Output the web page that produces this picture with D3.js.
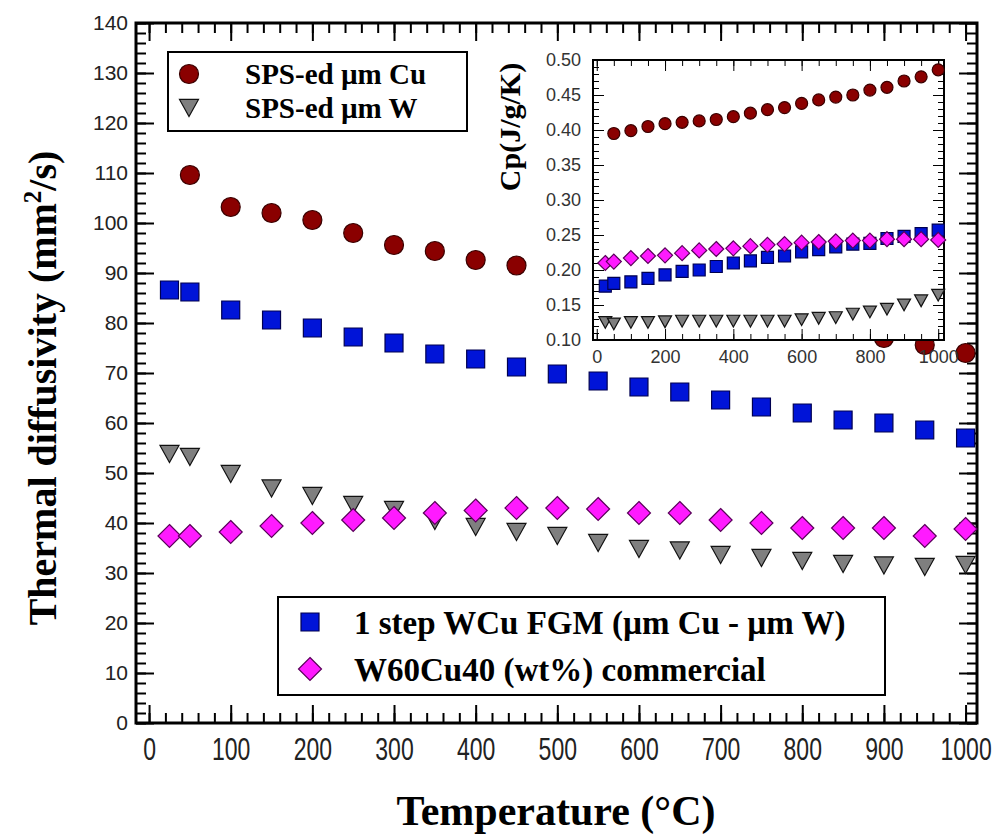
<!DOCTYPE html>
<html>
<head>
<meta charset="utf-8">
<script src="https://cdn.jsdelivr.net/npm/d3@7"></script>
<style>
  body { margin: 0; background: #fff; }
  svg { display: block; }
</style>
</head>
<body>
<div id="chart"></div>
<script>
// temperatures (°C)
const temps = [25, 50, 100, 150, 200, 250, 300, 350, 400, 450, 500, 550, 600, 650, 700, 750, 800, 850, 900, 950, 1000];
const cuTemps = [50, 100, 150, 200, 250, 300, 350, 400, 450, 500, 550, 600, 650, 700, 750, 800, 850, 900, 950, 1000];

// thermal diffusivity (mm2/s)
const cuDiff   = [109.6, 103.2, 102, 100.6, 98, 95.6, 94.4, 92.6, 91.5, 90.8, 89.5, 88, 86.5, 85, 83.5, 82, 80.5, 77, 75.6, 74];
const wDiff    = [53.8, 53.2, 49.8, 46.9, 45.4, 43.6, 42.6, 40.4, 39.2, 38.2, 37.4, 36, 34.8, 34.5, 33.6, 33, 32.4, 31.8, 31.5, 31.2, 31.6];
const fgmDiff  = [86.6, 86.2, 82.6, 80.6, 79, 77.2, 76, 73.8, 72.8, 71.2, 69.8, 68.4, 67.2, 66.2, 64.6, 63.2, 62, 60.6, 60, 58.6, 57];
const commDiff = [37.4, 37.4, 38.2, 39.4, 40, 40.6, 41, 42, 42.5, 43, 43, 42.8, 42, 42, 40.6, 40, 39, 39, 39, 37.4, 38.8];

// specific heat (J/g/K), inset
const cuCp   = [0.395, 0.399, 0.405, 0.409, 0.411, 0.413, 0.415, 0.419, 0.424, 0.429, 0.432, 0.438, 0.443, 0.447, 0.450, 0.457, 0.461, 0.470, 0.476, 0.486];
const wCp    = [0.125, 0.123, 0.125, 0.125, 0.126, 0.127, 0.127, 0.127, 0.127, 0.127, 0.127, 0.127, 0.129, 0.131, 0.132, 0.137, 0.140, 0.144, 0.150, 0.156, 0.164];
const fgmCp  = [0.177, 0.181, 0.183, 0.188, 0.193, 0.198, 0.200, 0.205, 0.210, 0.213, 0.218, 0.220, 0.226, 0.229, 0.233, 0.237, 0.238, 0.245, 0.248, 0.252, 0.257];
const commCp = [0.210, 0.212, 0.217, 0.220, 0.221, 0.224, 0.228, 0.230, 0.231, 0.234, 0.236, 0.237, 0.239, 0.240, 0.241, 0.242, 0.242, 0.244, 0.244, 0.244, 0.243];

const xTicks = [0, 100, 200, 300, 400, 500, 600, 700, 800, 900, 1000];
const yTicks = [0, 10, 20, 30, 40, 50, 60, 70, 80, 90, 100, 110, 120, 130, 140];
const insetXTicks = [0, 200, 400, 600, 800, 1000];
const insetYTicks = [0.10, 0.15, 0.20, 0.25, 0.30, 0.35, 0.40, 0.45, 0.50];

const legendTop = ["SPS-ed \u00b5m Cu", "SPS-ed \u00b5m W"];
const legendBottom = ["1 step WCu FGM (\u00b5m Cu - \u00b5m W)", "W60Cu40 (wt%) commercial"];

const width = 1000, height = 834;
const serif = "'Liberation Serif', 'Times New Roman', serif";
const sans = "'Liberation Sans', Arial, sans-serif";

const svg = d3.select('#chart').append('svg')
    .attr('width', width)
    .attr('height', height);

// main plot frame
const plot = { left: 136, right: 977, top: 23, bottom: 723 };
const x = d3.scaleLinear().domain([-16, 1014]).range([plot.left, plot.right]);
const y = d3.scaleLinear().domain([0, 140]).range([plot.bottom, plot.top]);

// marker shapes
const markers = {
    circle:   (s) => d3.symbol(d3.symbolCircle, Math.PI * s * s / 4)(),
    square:   (s) => d3.symbol(d3.symbolSquare, s * s)(),
    diamond:  (s) => `M0,${-s / 2}L${s / 2},0L0,${s / 2}L${-s / 2},0Z`,
    triangle: (s) => `M${-s / 2},${-s * 0.45}L${s / 2},${-s * 0.45}L0,${s * 0.45}Z`
};
const styles = {
    cu:   { shape: 'circle',   fill: '#8a0000', stroke: '#3a0000' },
    w:    { shape: 'triangle', fill: '#7f7f7f', stroke: '#111' },
    fgm:  { shape: 'square',   fill: '#0014d8', stroke: '#000050' },
    comm: { shape: 'diamond',  fill: '#ff1aff', stroke: '#5a005a' }
};
const mainSize = { circle: 19, triangle: 19, square: 18, diamond: 23 };
const insetSize = { circle: 12, triangle: 13, square: 12, diamond: 15 };

function drawSeries(g, xs, ys, tArr, vArr, key, sizes) {
    const st = styles[key];
    g.append('g').selectAll('path')
        .data(tArr.map((t, i) => [t, vArr[i]]))
        .join('path')
        .attr('transform', d => `translate(${xs(d[0])},${ys(d[1])})`)
        .attr('d', markers[st.shape](sizes[st.shape]))
        .attr('fill', st.fill)
        .attr('stroke', st.stroke)
        .attr('stroke-width', 1.2);
}

// ticks, all pointing inside
function ticks(g, axisFn, scale, values, size, labels, pad) {
    const a = axisFn(scale).tickValues(values).tickSize(-size).tickPadding(pad || 3);
    a.tickFormat(labels ? d3.format('d') : '');
    const sel = g.append('g').call(a);
    sel.select('.domain').remove();
    return sel;
}

const main = svg.append('g');

// minor / major ticks on 4 sides
const xMinor = d3.range(0, 1001, 20), yMinor = d3.range(0, 141, 2);
ticks(main.append('g').attr('transform', `translate(0,${plot.bottom})`), d3.axisBottom, x, xMinor, 10, false)
    .selectAll('line').attr('stroke-width', 2);
const xLab = ticks(main.append('g').attr('transform', `translate(0,${plot.bottom})`), d3.axisBottom, x, xTicks, 18, true, 14);
xLab.selectAll('line').attr('stroke-width', 2);
xLab.selectAll('text')
    .attr('font-family', sans).attr('font-size', 32).attr('fill', '#222')
    .attr('transform', 'scale(0.72,1)');

ticks(main.append('g').attr('transform', `translate(0,${plot.top})`), d3.axisTop, x, xMinor, 10, false)
    .selectAll('line').attr('stroke-width', 2);
ticks(main.append('g').attr('transform', `translate(0,${plot.top})`), d3.axisTop, x, xTicks, 18, false)
    .selectAll('line').attr('stroke-width', 2);

ticks(main.append('g').attr('transform', `translate(${plot.left},0)`), d3.axisLeft, y, yMinor, 10, false)
    .selectAll('line').attr('stroke-width', 2);
const yLab = ticks(main.append('g').attr('transform', `translate(${plot.left},0)`), d3.axisLeft, y, yTicks, 18, true, 8);
yLab.selectAll('line').attr('stroke-width', 2);
yLab.selectAll('text')
    .attr('font-family', sans).attr('font-size', 21).attr('fill', '#222');

ticks(main.append('g').attr('transform', `translate(${plot.right},0)`), d3.axisRight, y, yMinor, 10, false)
    .selectAll('line').attr('stroke-width', 2);
ticks(main.append('g').attr('transform', `translate(${plot.right},0)`), d3.axisRight, y, yTicks, 18, false)
    .selectAll('line').attr('stroke-width', 2);

main.append('rect')
    .attr('x', plot.left).attr('y', plot.top)
    .attr('width', plot.right - plot.left).attr('height', plot.bottom - plot.top)
    .attr('fill', 'none').attr('stroke', '#000').attr('stroke-width', 3);

// main series
const dots = main.append('g');
drawSeries(dots, x, y, cuTemps, cuDiff, 'cu', mainSize);
drawSeries(dots, x, y, temps, fgmDiff, 'fgm', mainSize);
drawSeries(dots, x, y, temps, wDiff, 'w', mainSize);
drawSeries(dots, x, y, temps, commDiff, 'comm', mainSize);

// axis titles
svg.append('text')
    .attr('transform', 'translate(556,825)')
    .attr('text-anchor', 'middle')
    .attr('font-family', serif).attr('font-weight', 'bold').attr('font-size', 42)
    .text('Temperature (\u00b0C)');

const yTitle = svg.append('text')
    .attr('transform', 'translate(56,388) rotate(-90)')
    .attr('text-anchor', 'middle')
    .attr('font-family', serif).attr('font-weight', 'bold').attr('font-size', 40);
yTitle.append('tspan').text('Thermal diffusivity (mm');
yTitle.append('tspan').attr('dy', -15).attr('font-size', 25).text('2');
yTitle.append('tspan').attr('dy', 15).text('/s)');

// legends
function legend(x0, y0, w, h, rows, keys, markX, textX, rowY, fontSize) {
    const g = svg.append('g');
    g.append('rect').attr('x', x0).attr('y', y0).attr('width', w).attr('height', h)
        .attr('fill', '#fff').attr('stroke', '#000').attr('stroke-width', 2);
    rows.forEach((label, i) => {
        const st = styles[keys[i]];
        g.append('path')
            .attr('transform', `translate(${markX},${rowY[i]})`)
            .attr('d', markers[st.shape](mainSize[st.shape]))
            .attr('fill', st.fill).attr('stroke', st.stroke).attr('stroke-width', 1.2);
        g.append('text')
            .attr('x', textX).attr('y', rowY[i])
            .attr('dy', '0.35em')
            .attr('font-family', serif).attr('font-weight', 'bold').attr('font-size', fontSize)
            .text(label);
    });
}
legend(168, 52, 299, 79, legendTop, ['cu', 'w'], 189, 245, [74, 108], 29);
legend(278, 597, 607, 98, legendBottom, ['fgm', 'comm'], 310, 354, [622, 669], 33);

// inset
const inset = { left: 593, right: 944, top: 60, bottom: 340 };
const xi = d3.scaleLinear().domain([-11, 1017]).range([inset.left, inset.right]);
const yi = d3.scaleLinear().domain([0.10, 0.50]).range([inset.bottom, inset.top]);

const ins = svg.append('g');
ins.append('rect')
    .attr('x', 535).attr('y', 50).attr('width', inset.right - 535).attr('height', inset.bottom - 50)
    .attr('fill', '#fff');

const xiMinor = d3.range(0, 1001, 50), yiMinor = d3.range(10, 51, 1).map(d => d / 100);
ticks(ins.append('g').attr('transform', `translate(0,${inset.bottom})`), d3.axisBottom, xi, xiMinor, 6, false);
const xiLab = ticks(ins.append('g').attr('transform', `translate(0,${inset.bottom})`), d3.axisBottom, xi, insetXTicks, 11, true, 10);
xiLab.selectAll('text').attr('font-family', sans).attr('font-size', 18).attr('fill', '#333');
ticks(ins.append('g').attr('transform', `translate(0,${inset.top})`), d3.axisTop, xi, xiMinor, 6, false);
ticks(ins.append('g').attr('transform', `translate(0,${inset.top})`), d3.axisTop, xi, insetXTicks, 11, false);
ticks(ins.append('g').attr('transform', `translate(${inset.left},0)`), d3.axisLeft, yi, yiMinor, 6, false);
const yiLab = ticks(ins.append('g').attr('transform', `translate(${inset.left},0)`), d3.axisLeft, yi, insetYTicks, 11, true, 12);
yiLab.selectAll('text').attr('font-family', sans).attr('font-size', 18).attr('fill', '#333')
    .text(d => d3.format('.2f')(d));
ticks(ins.append('g').attr('transform', `translate(${inset.right},0)`), d3.axisRight, yi, yiMinor, 6, false);
ticks(ins.append('g').attr('transform', `translate(${inset.right},0)`), d3.axisRight, yi, insetYTicks, 11, false);

ins.append('rect')
    .attr('x', inset.left).attr('y', inset.top)
    .attr('width', inset.right - inset.left).attr('height', inset.bottom - inset.top)
    .attr('fill', 'none').attr('stroke', '#000').attr('stroke-width', 2);

const idots = ins.append('g');
drawSeries(idots, xi, yi, cuTemps, cuCp, 'cu', insetSize);
drawSeries(idots, xi, yi, temps, wCp, 'w', insetSize);
drawSeries(idots, xi, yi, temps, fgmCp, 'fgm', insetSize);
drawSeries(idots, xi, yi, temps, commCp, 'comm', insetSize);

ins.append('text')
    .attr('transform', 'translate(520,127) rotate(-90)')
    .attr('text-anchor', 'middle')
    .attr('font-family', serif).attr('font-weight', 'bold').attr('font-size', 30)
    .text('Cp(J/g/K)');
</script>
</body>
</html>
